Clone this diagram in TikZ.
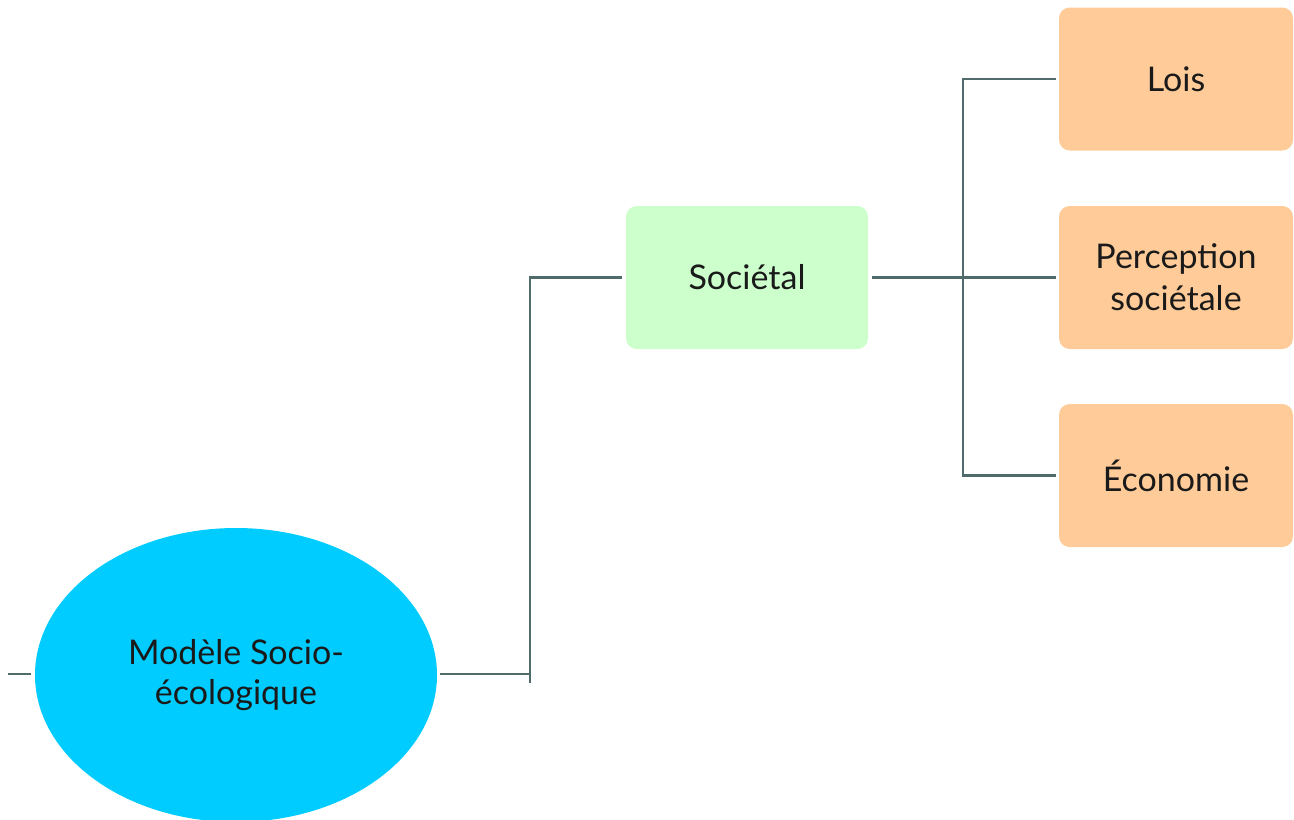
\documentclass[tikz,border=0pt]{standalone}
\usepackage{fontspec}
\setmainfont{Lato}
\usetikzlibrary{shapes.geometric}
\definecolor{linkcol}{HTML}{4F6B6B}
\definecolor{rootfill}{HTML}{00CCFF}
\definecolor{midfill}{HTML}{CCFFCC}
\definecolor{leaffill}{HTML}{FFCC99}
\definecolor{txtcol}{HTML}{1A1A1A}
\tikzset{
  link/.style={draw=linkcol, line width=1.9pt},
  rootnode/.style={ellipse, fill=rootfill, minimum width=402*0.75pt, minimum height=294*0.75pt,
    inner sep=0pt, align=center, font=\fontsize{25.5}{30}\selectfont, text=txtcol},
  midnode/.style={rectangle, rounded corners=8pt, fill=midfill, minimum width=242*0.75pt,
    minimum height=143*0.75pt, inner sep=0pt, align=center, font=\fontsize{25.5}{31.5}\selectfont, text=txtcol},
  leafnode/.style={rectangle, rounded corners=8pt, fill=leaffill, minimum width=234*0.75pt,
    minimum height=143*0.75pt, inner sep=0pt, align=center, font=\fontsize{25.5}{31.5}\selectfont, text=txtcol},
}
\begin{document}
\begin{tikzpicture}[x=0.75pt,y=-0.75pt]
\useasboundingbox (0,0) rectangle (1294,819);
\clip (0,0) rectangle (1294,819);
% root
\node[rootnode] (root) at (236,675) {Modèle Socio-\\écologique};
% middle level
\node[midnode] (soc) at (747,277.5) {Sociétal};
% leaves
\node[leafnode] (lois) at (1176,79) {Lois};
\node[leafnode] (perc) at (1176,277.5) {Perception\\sociétale};
\node[leafnode] (eco) at (1176,475.5) {Économie};
% junction points
\coordinate (stub) at (8,674);
\coordinate (j1) at (530,674);
\coordinate (j1b) at (530,683);
\coordinate (j2) at (963,277);
% connectors
\draw[link] (stub) -- ([xshift=-3pt]root.west |- stub);
\draw[link] ([xshift=2pt]root.east |- j1) -- (j1) -- (j1b);
\draw[link] (j1b) -- (j1 |- soc.west) -- ([xshift=-3pt]soc.west);
\draw[link] ([xshift=3pt]soc.east) -- ([xshift=-2pt]perc.west);
\draw[link] ([xshift=-2pt]lois.west) -- (j2 |- lois.west) -- (j2 |- eco.west) -- ([xshift=-2pt]eco.west);
\end{tikzpicture}
\end{document}
